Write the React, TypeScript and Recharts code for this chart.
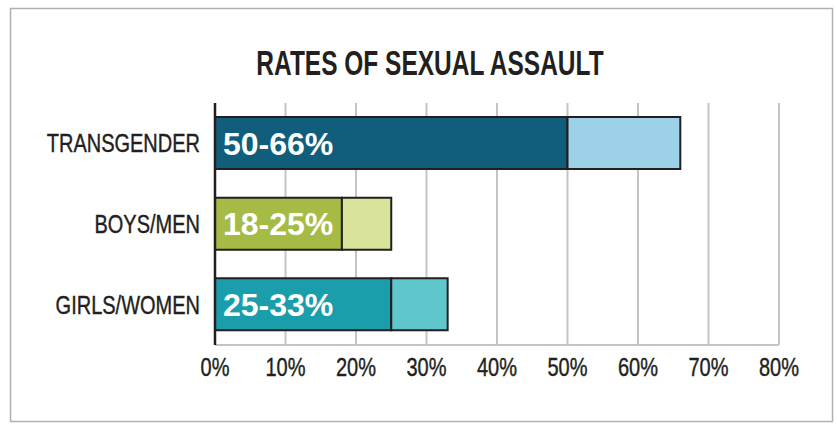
import React from 'react';
import { BarChart, Bar, XAxis, YAxis, CartesianGrid, Cell, LabelList } from 'recharts';

const categories = ['TRANSGENDER', 'BOYS/MEN', 'GIRLS/WOMEN'];
const lowRates = [50, 18, 25];
const highRates = [66, 25, 33];
const baseColors = ['#115e7c', '#a6bb45', '#1a9eab'];
const extraColors = ['#9dd1e8', '#d9e39a', '#5fc6cc'];
const xTicks = [0, 10, 20, 30, 40, 50, 60, 70, 80];

const INK = '#231f20';
const GRID = '#c4c4c8';
const SANS = '"Liberation Sans", Arial, sans-serif';
// no condensed face installed, so squeeze Liberation Sans horizontally
const SQUEEZE = 0.8;

const data = categories.map((name, i) => ({
  name,
  low: lowRates[i],
  extra: highRates[i] - lowRates[i],
  label: `${lowRates[i]}-${highRates[i]}%`,
}));

const RangeLabel = (props: any) => {
  const { x, y, height, value } = props;
  return (
    <text
      x={x + 8}
      y={y + height / 2}
      dy="0.36em"
      fill="#ffffff"
      fontSize={32}
      fontWeight="bold"
      fontFamily={SANS}
    >
      {value}
    </text>
  );
};

const CondensedTick = (props: any) => {
  const { x, y, payload, textAnchor, dy, formatter } = props;
  const text = formatter ? formatter(payload.value) : payload.value;
  return (
    <g transform={`translate(${x},${y}) scale(${SQUEEZE},1)`}>
      <text
        x={0}
        y={0}
        dy={dy}
        textAnchor={textAnchor}
        fill={INK}
        stroke={INK}
        strokeWidth={0.4}
        fontSize={25}
        fontFamily={SANS}
      >
        {text}
      </text>
    </g>
  );
};

const App: React.FC = () => {
  return (
    <div style={{ position: 'absolute', left: 0, top: 0, width: 837, height: 424, background: '#fff' }}>
      <svg width={837} height={424} style={{ position: 'absolute', left: 0, top: 0 }}>
        <rect x={10.5} y={8.5} width={822} height={413} fill="none" stroke="#b0b0b0" strokeWidth={1.5} />
        <g transform="translate(430,75) scale(0.7,1)">
          <text x={0} y={0} textAnchor="middle" fill={INK} fontSize={35} fontWeight="bold" fontFamily={SANS}>
            RATES OF SEXUAL ASSAULT
          </text>
        </g>
      </svg>
      <div style={{ position: 'absolute', left: 0, top: 0 }}>
        <BarChart
          width={837}
          height={424}
          data={data}
          layout="vertical"
          margin={{ top: 103, right: 58, bottom: 49, left: 0 }}
          barSize={52}
        >
          <CartesianGrid horizontal={false} stroke={GRID} strokeWidth={2} />
          <XAxis
            type="number"
            domain={[0, 80]}
            ticks={xTicks}
            height={30}
            tickSize={0}
            tickMargin={13}
            axisLine={{ stroke: GRID, strokeWidth: 2 }}
            tickLine={false}
            tick={(p: any) => (
              <CondensedTick {...p} textAnchor="middle" dy="0.72em" formatter={(v: number) => `${v}%`} />
            )}
          />
          <YAxis
            type="category"
            dataKey="name"
            width={215}
            tickSize={0}
            tickMargin={15}
            axisLine={{ stroke: INK, strokeWidth: 2.5 }}
            tickLine={false}
            tick={(p: any) => <CondensedTick {...p} textAnchor="end" dy="0.36em" />}
          />
          <Bar dataKey="low" stackId="r" stroke={INK} strokeWidth={2} isAnimationActive={false}>
            {data.map((d, i) => (
              <Cell key={`b-${d.name}`} fill={baseColors[i]} />
            ))}
            <LabelList dataKey="label" content={RangeLabel} />
          </Bar>
          <Bar dataKey="extra" stackId="r" stroke={INK} strokeWidth={2} isAnimationActive={false}>
            {data.map((d, i) => (
              <Cell key={`e-${d.name}`} fill={extraColors[i]} />
            ))}
          </Bar>
        </BarChart>
      </div>
    </div>
  );
};

export default App;
